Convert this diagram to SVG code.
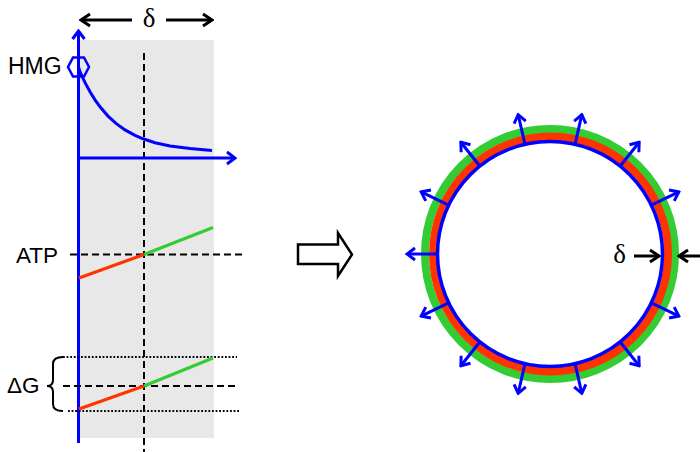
<svg xmlns="http://www.w3.org/2000/svg" width="700" height="452" viewBox="0 0 700 452">
<style>
.lbl{font-family:"Liberation Sans",Arial,sans-serif;font-size:22.5px;fill:#000}
.dl{font-family:"Liberation Serif","Times New Roman",serif;font-size:27px;fill:#000}
.ax{stroke:#0000ff;stroke-width:3;fill:none}
.dash{stroke:#000;stroke-width:2;stroke-dasharray:7 4;fill:none}
.dot{stroke:#000;stroke-width:2;stroke-dasharray:1.8 1.8;fill:none}
.red{stroke:#ff3300;stroke-width:3.2;fill:none}
.grn{stroke:#33cc33;stroke-width:3.2;fill:none}
.barr{stroke:#000;stroke-width:3;fill:none}
.blarr{stroke:#0000ff;stroke-width:3;fill:none}
</style>
<defs>
<marker id="hb" viewBox="-11 -8 13 16" refX="0" refY="0" markerWidth="13" markerHeight="16" markerUnits="userSpaceOnUse" orient="auto">
<path d="M-9,-6 L0,0 L-9,6" stroke="#000" stroke-width="3" fill="none"/>
</marker>
<marker id="hu" viewBox="-11 -8 13 16" refX="0" refY="0" markerWidth="13" markerHeight="16" markerUnits="userSpaceOnUse" orient="auto">
<path d="M-8,-6 L0,0 L-8,6" stroke="#0000ff" stroke-width="3" fill="none"/>
</marker>
</defs>
<rect id="band" x="80" y="40" width="134" height="398" fill="#e8e8e8"/>
<g id="left-panel">
<line class="dash" x1="144" y1="53" x2="144" y2="452"/>
<g id="delta-top">
<line class="barr" x1="132" y1="20" x2="81" y2="20" marker-end="url(#hb)"/>
<line class="barr" x1="166" y1="20" x2="212" y2="20" marker-end="url(#hb)"/>
<text class="dl" x="149" y="27" text-anchor="middle">δ</text>
</g>
<g id="hmg">
<polyline class="ax" points="78.5,67 80,71.7 83,78.4 86,84.4 90,91.7 95,99.8 100,106.8 108,116.1 116,123.4 125,129.9 135,135.4 143,138.8 155,142.7 170,145.9 190,148.6 212,150.5"/>
<line class="ax" x1="78" y1="158" x2="235" y2="158" marker-end="url(#hu)"/>
<polygon points="68,67 73,57.5 84,57.5 89,67 84,76.5 73,76.5" stroke="#0000ff" stroke-width="2.5" fill="none"/>
<text class="lbl" x="8" y="74" style="font-size:23px">HMG</text>
</g>
<line id="yaxis" class="ax" x1="78.5" y1="443" x2="78.5" y2="31" marker-end="url(#hu)"/>
<g id="atp">
<line class="dash" x1="70" y1="254.5" x2="243" y2="254.5"/>
<line class="red" x1="79" y1="278" x2="144" y2="254.5"/>
<line class="grn" x1="144" y1="254.5" x2="213" y2="227.5"/>
<text class="lbl" x="16" y="263">ATP</text>
</g>
<g id="dg">
<line class="dot" x1="63" y1="357" x2="237" y2="357"/>
<line class="dash" x1="63" y1="386" x2="237" y2="386"/>
<line class="dot" x1="68" y1="411" x2="240" y2="411"/>
<line class="red" x1="79" y1="409" x2="144" y2="386"/>
<line class="grn" x1="144" y1="386" x2="213" y2="358"/>
<path d="M63,357 Q53,357 53,364 V380 Q53,386 47,386 Q53,386 53,392 V404 Q53,411 63,411" stroke="#000" stroke-width="2" fill="none"/>
<text class="lbl" x="7" y="393">ΔG</text>
</g>
</g>
<g id="big-arrow">
<path d="M298,244.5 H338 V233 L352,254.5 L338,276 V264 H298 Z" stroke="#000" stroke-width="2.5" fill="#fff" stroke-linejoin="miter"/>
</g>
<g id="cell">
<circle cx="550" cy="254" r="125" fill="none" stroke="#33cc33" stroke-width="8"/>
<circle cx="550.5" cy="254" r="117.5" fill="none" stroke="#ff3300" stroke-width="8"/>
<circle cx="550" cy="254" r="112.5" fill="#fff" stroke="#0000ff" stroke-width="3.5"/>
</g>
<g id="connectors">
<line class="blarr" x1="650.91" y1="302.59" x2="678.84" y2="316.05" marker-end="url(#hu)"/>
<line class="blarr" x1="619.83" y1="341.56" x2="639.16" y2="365.80" marker-end="url(#hu)"/>
<line class="blarr" x1="574.92" y1="363.19" x2="581.82" y2="393.41" marker-end="url(#hu)"/>
<line class="blarr" x1="525.08" y1="363.19" x2="518.18" y2="393.41" marker-end="url(#hu)"/>
<line class="blarr" x1="480.17" y1="341.56" x2="460.84" y2="365.80" marker-end="url(#hu)"/>
<line class="blarr" x1="449.09" y1="302.59" x2="421.16" y2="316.05" marker-end="url(#hu)"/>
<line class="blarr" x1="438" y1="254" x2="407" y2="254" marker-end="url(#hu)"/>
<line class="blarr" x1="449.09" y1="205.41" x2="421.16" y2="191.95" marker-end="url(#hu)"/>
<line class="blarr" x1="480.17" y1="166.44" x2="460.84" y2="142.20" marker-end="url(#hu)"/>
<line class="blarr" x1="525.08" y1="144.81" x2="518.18" y2="114.59" marker-end="url(#hu)"/>
<line class="blarr" x1="574.92" y1="144.81" x2="581.82" y2="114.59" marker-end="url(#hu)"/>
<line class="blarr" x1="619.83" y1="166.44" x2="639.16" y2="142.20" marker-end="url(#hu)"/>
<line class="blarr" x1="650.91" y1="205.41" x2="678.84" y2="191.95" marker-end="url(#hu)"/>
</g>
<g id="delta-right">
<line class="barr" x1="634" y1="256" x2="659" y2="256" marker-end="url(#hb)"/>
<line class="barr" x1="702" y1="256" x2="679" y2="256" marker-end="url(#hb)"/>
<text class="dl" x="619.5" y="263" text-anchor="middle">δ</text>
</g>
</svg>
